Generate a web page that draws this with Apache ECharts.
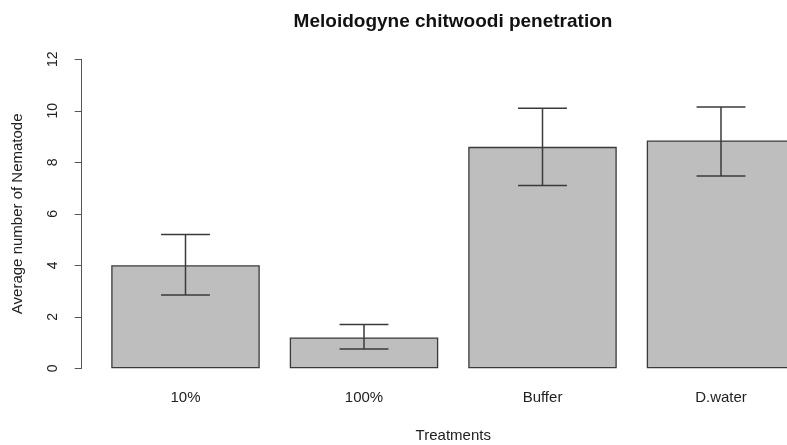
<!DOCTYPE html>
<html>
<head>
<meta charset="utf-8">
<script src="https://cdn.jsdelivr.net/npm/echarts@6/dist/echarts.min.js"></script>
<style>
html,body{margin:0;padding:0;background:#fff;}
#chart{width:787px;height:445px;}
</style>
</head>
<body>
<div id="chart"></div>
<script>
var categories = ['10%', '100%', 'Buffer', 'D.water'];
var means = [4.0, 1.2, 8.6, 8.85];
var upper = [5.2, 1.7, 10.1, 10.15];
var lower = [2.85, 0.75, 7.1, 7.47];
var yTicks = [0, 2, 4, 6, 8, 10, 12];

var errData = categories.map(function (c, i) { return [i, lower[i], upper[i]]; });

var chart = echarts.init(document.getElementById('chart'));
var font = 'Liberation Sans, Arial, sans-serif';
chart.setOption({
  animation: false,
  backgroundColor: '#ffffff',
  title: {
    text: 'Meloidogyne chitwoodi penetration',
    left: 448,
    top: 7,
    textAlign: 'center',
    textStyle: { fontFamily: font, fontSize: 19, fontWeight: 'bold', color: '#111' }
  },
  grid: { left: 96.25, width: 714, top: 59.3, height: 309, containLabel: false, outerBoundsMode: 'none' },
  xAxis: {
    type: 'category',
    data: categories,
    axisLine: { show: false },
    axisTick: { show: false },
    axisLabel: { fontFamily: font, fontSize: 15, color: '#222', margin: 22 },
    name: 'Treatments',
    nameLocation: 'middle',
    nameGap: 60,
    nameTextStyle: { fontFamily: font, fontSize: 15, color: '#222' }
  },
  yAxis: {
    type: 'value',
    min: 0,
    max: 12,
    interval: 2,
    offset: 14.55,
    splitLine: { show: false },
    axisLine: { show: true, lineStyle: { color: '#555', width: 1 } },
    axisTick: { show: true, length: 7, lineStyle: { color: '#555', width: 1 } },
    axisLabel: {
      rotate: 90, fontFamily: font, fontSize: 14, color: '#222', margin: 22,
      formatter: function (v) { return yTicks.indexOf(v) >= 0 ? String(v) : ''; }
    },
    name: 'Average number of Nematode',
    nameLocation: 'middle',
    nameRotate: 90,
    nameGap: 56,
    nameTextStyle: { fontFamily: font, fontSize: 15, color: '#222' }
  },
  series: [
    {
      type: 'bar',
      data: means,
      barWidth: '83.2%',
      itemStyle: { color: '#bebebe', borderColor: '#3a3a3a', borderWidth: 1.3 }
    },
    {
      type: 'custom',
      data: errData,
      z: 10,
      renderItem: function (params, api) {
        var x = api.value(0);
        var lo = api.coord([x, api.value(1)]);
        var hi = api.coord([x, api.value(2)]);
        var half = api.size([1, 0])[0] * 0.137;
        var st = { stroke: '#3a3a3a', lineWidth: 1.5 };
        return {
          type: 'group',
          children: [
            { type: 'line', shape: { x1: hi[0], y1: hi[1], x2: lo[0], y2: lo[1] }, style: st },
            { type: 'line', shape: { x1: hi[0] - half, y1: hi[1], x2: hi[0] + half, y2: hi[1] }, style: st },
            { type: 'line', shape: { x1: lo[0] - half, y1: lo[1], x2: lo[0] + half, y2: lo[1] }, style: st }
          ]
        };
      }
    }
  ]
});
</script>
</body>
</html>
